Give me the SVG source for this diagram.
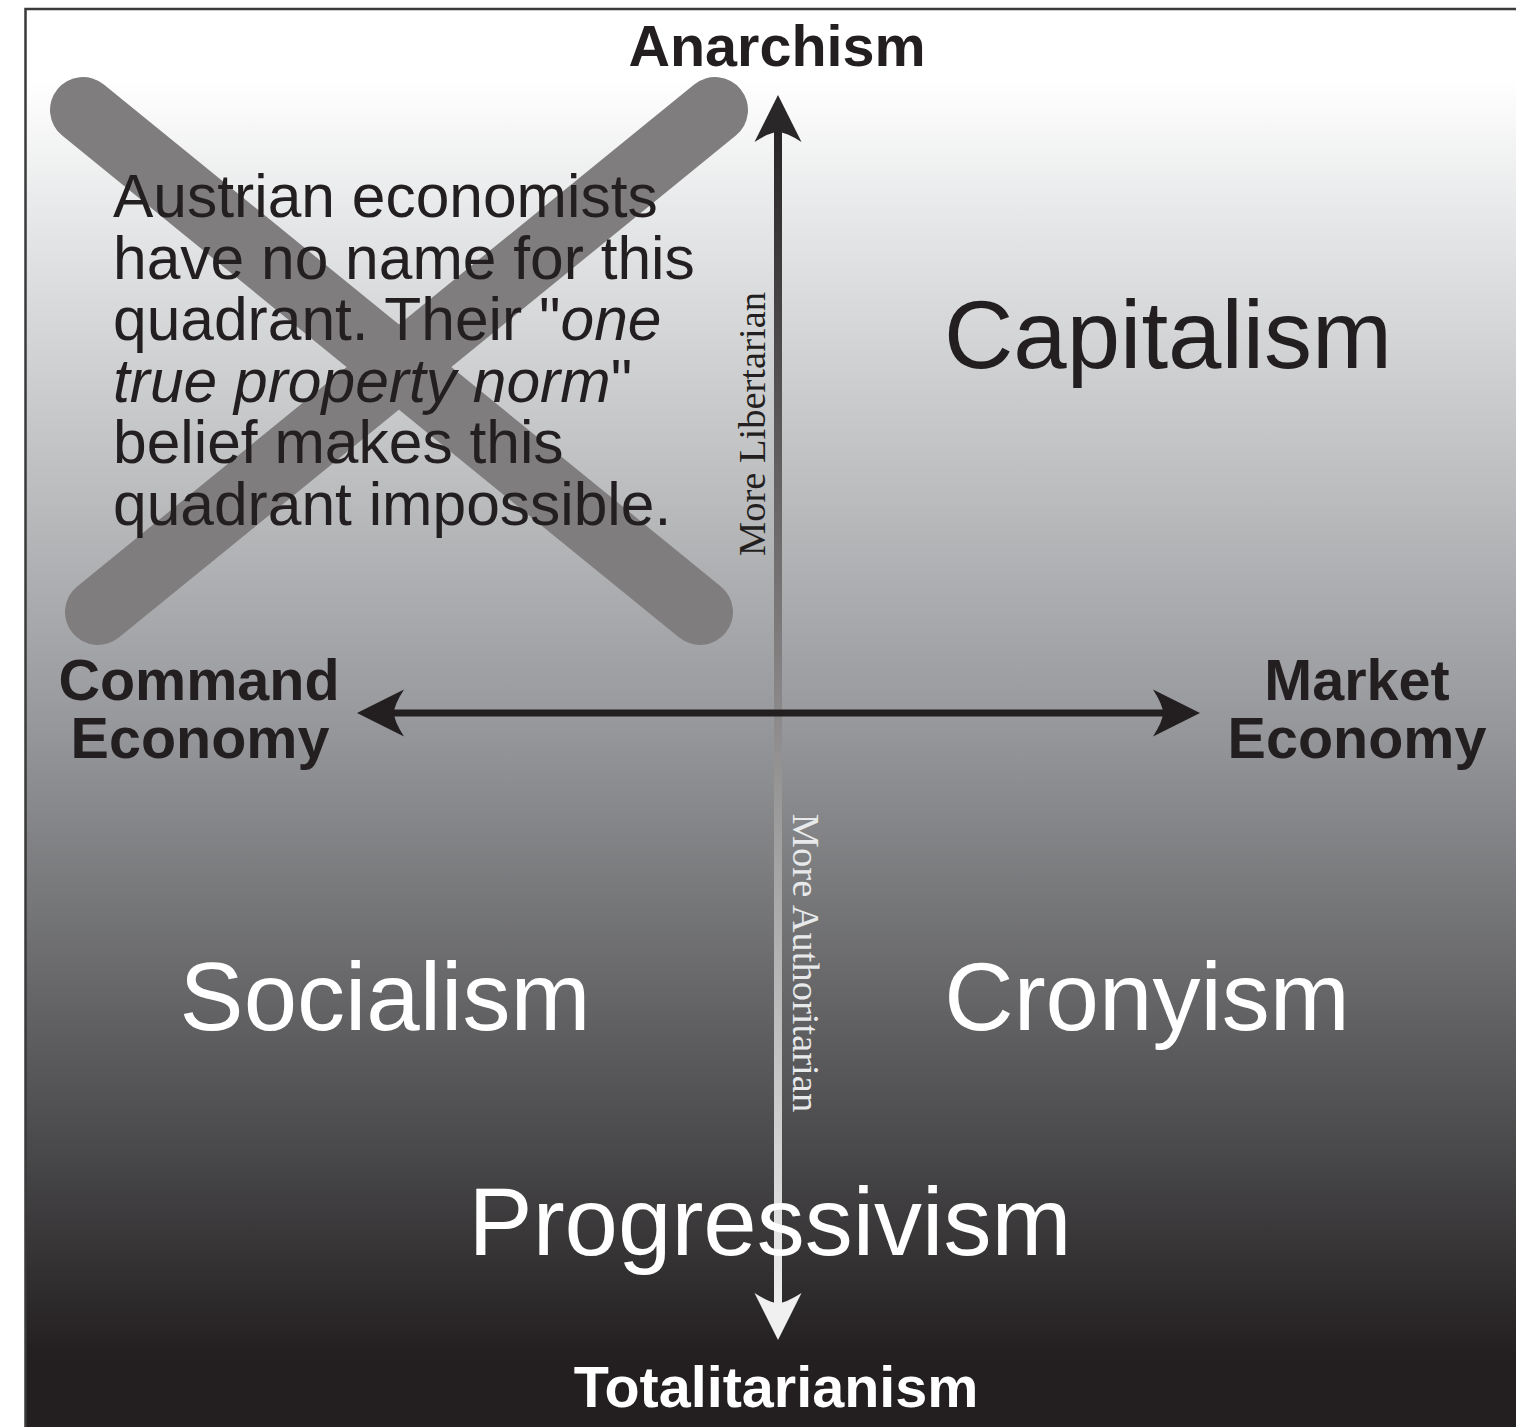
<svg xmlns="http://www.w3.org/2000/svg" width="1516" height="1427" viewBox="0 0 1516 1427">
  <style>
    .bold { font-family: "Liberation Sans", Arial, Helvetica, sans-serif; font-weight: bold; font-size: 57.5px; }
    .big { font-family: "Liberation Sans", Arial, Helvetica, sans-serif; font-size: 96px; text-anchor: middle; }
    .para { font-family: "Liberation Sans", Arial, Helvetica, sans-serif; font-size: 60.5px; fill: #231f20; }
    .vert { font-family: "Liberation Serif", "Times New Roman", serif; font-size: 38.5px; text-anchor: middle; }
    .dark { fill: #231f20; }
    .light { fill: #ffffff; }
    .mid { text-anchor: middle; }
    .xarm { stroke: #7f7d7e; stroke-width: 66; stroke-linecap: round; fill: none; }
  </style>
  <defs>
    <linearGradient id="bg" gradientUnits="userSpaceOnUse" x1="0" y1="80" x2="0" y2="1356">
      <stop offset="0" stop-color="#ffffff"/>
      <stop offset="0.1" stop-color="#e8e9ea"/>
      <stop offset="0.5" stop-color="#98999c"/>
      <stop offset="0.8" stop-color="#525254"/>
      <stop offset="1" stop-color="#231f20"/>
    </linearGradient>
    <linearGradient id="vaxis" gradientUnits="userSpaceOnUse" x1="0" y1="95" x2="0" y2="1340">
      <stop offset="0" stop-color="#231f20"/>
      <stop offset="1" stop-color="#f4f4f4"/>
    </linearGradient>
    <path id="head" d="M0,0 L23.5,47 Q8,37 0,37 Q-8,37 -23.5,47 Z"/>
  </defs>

  <g id="background">
    <rect x="25" y="9" width="1491" height="1418" fill="#ffffff"/>
    <rect x="25" y="80" width="1491" height="1276" fill="url(#bg)"/>
    <rect x="25" y="1355" width="1491" height="72" fill="#231f20"/>
    <path d="M1516,9 H25.5 V1427" fill="none" stroke="#3a3a3a" stroke-width="2.5"/>
  </g>

  <g id="cross-out">
    <line class="xarm" x1="83" y1="110" x2="700" y2="612"/>
    <line class="xarm" x1="715" y1="110" x2="98" y2="612"/>
  </g>

  <g id="connectors">
    <line x1="778" y1="130" x2="778" y2="1305" stroke="url(#vaxis)" stroke-width="8"/>
    <use href="#head" transform="translate(778,95)" fill="#2a2728"/>
    <use href="#head" transform="translate(778,1340) rotate(180)" fill="#f0f0f0"/>
    <line x1="392" y1="713" x2="1165" y2="713" stroke="#231f20" stroke-width="7"/>
    <use href="#head" transform="translate(357,713) rotate(-90)" fill="#231f20"/>
    <use href="#head" transform="translate(1200,713) rotate(90)" fill="#231f20"/>
  </g>

  <g id="anarchism"><text class="bold dark mid" x="777" y="66">Anarchism</text></g>
  <g id="totalitarianism"><text class="bold light mid" x="776" y="1407">Totalitarianism</text></g>
  <g id="command-economy">
    <text class="bold dark mid" x="199" y="700">Command</text>
    <text class="bold dark mid" x="200" y="758">Economy</text>
  </g>
  <g id="market-economy">
    <text class="bold dark mid" x="1357" y="700">Market</text>
    <text class="bold dark mid" x="1357" y="758">Economy</text>
  </g>
  <g id="capitalism"><text class="big dark" x="1168" y="368">Capitalism</text></g>
  <g id="socialism"><text class="big light" x="385" y="1030">Socialism</text></g>
  <g id="cronyism"><text class="big light" x="1147" y="1030">Cronyism</text></g>
  <g id="progressivism"><text class="big light" x="770" y="1255" font-size="95">Progressivism</text></g>

  <g id="more-libertarian"><text class="vert" fill="#231f20" transform="translate(765,424) rotate(-90)">More Libertarian</text></g>
  <g id="more-authoritarian"><text class="vert" fill="#e8e9ea" font-size="39.5" transform="translate(793,963) rotate(90)">More Authoritarian</text></g>

  <g id="note">
    <text class="para" x="113" y="217">Austrian economists</text>
    <text class="para" x="113" y="278.5">have no name for this</text>
    <text class="para" x="113" y="340">quadrant. Their "<tspan font-style="italic">one</tspan></text>
    <text class="para" x="113" y="401.5"><tspan font-style="italic">true property norm</tspan>"</text>
    <text class="para" x="113" y="463">belief makes this</text>
    <text class="para" x="113" y="524.5">quadrant impossible.</text>
  </g>
</svg>
